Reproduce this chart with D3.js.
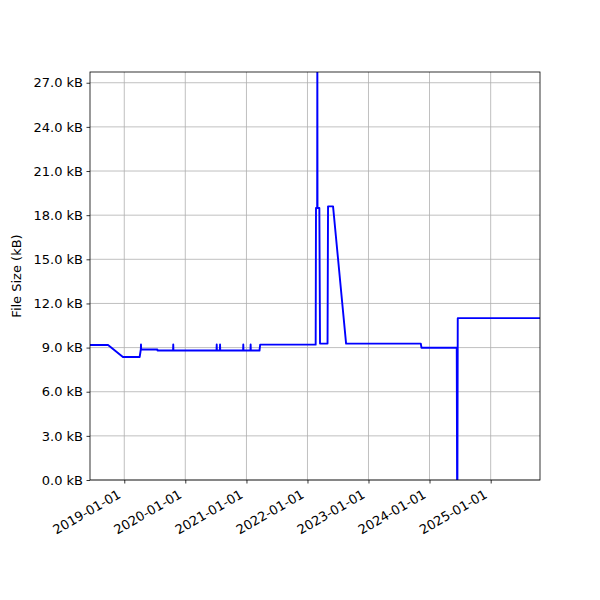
<!DOCTYPE html>
<html><head><meta charset="utf-8">
<script src="https://cdn.jsdelivr.net/npm/d3@7"></script>
<style>body{margin:0;background:#fff}svg{display:block}</style>
</head><body>
<svg id="chart" width="600" height="600"></svg>
<script>
const dates = ["2018-06-10","2018-09-26","2018-12-24","2019-04-03","2019-04-10","2019-04-11","2019-04-12","2019-07-18","2019-07-19","2019-10-20","2019-10-21","2019-10-22","2020-07-06","2020-07-07","2020-07-08","2020-07-26","2020-07-27","2020-07-28","2020-12-12","2020-12-13","2020-12-14","2021-01-25","2021-01-26","2021-01-27","2021-03-20","2021-03-24","2022-02-19","2022-02-21","2022-02-28","2022-03-01","2022-03-02","2022-03-13","2022-03-17","2022-05-01","2022-05-04","2022-06-03","2022-08-20","2023-11-10","2023-11-14","2024-06-12","2024-06-14","2024-06-16","2024-06-18","2025-10-23"];
const sizes = [9.18,9.18,8.36,8.36,8.87,9.21,8.87,8.87,8.8,8.8,9.21,8.8,8.8,9.21,8.8,8.8,9.21,8.8,8.8,9.21,8.8,8.8,9.21,8.8,8.8,9.2,9.2,18.49,18.49,30,18.49,18.49,9.27,9.27,18.6,18.6,9.27,9.27,8.99,8.99,0,0,11.0,11.0];
const yTicks = [0,3,6,9,12,15,18,21,24,27];
const xTickLabels = ["2019-01-01","2020-01-01","2021-01-01","2022-01-01","2023-01-01","2024-01-01","2025-01-01"];
const xDomain = ["2018-06-10","2025-10-23"];
const yDomain = [0, 27.73];

const parse = d3.utcParse("%Y-%m-%d");
const data = dates.map((d,i)=>({t:parse(d), v:sizes[i]}));
const m = {l:90, r:540, t:72, b:480};
const svg = d3.select("#chart");
const x = d3.scaleUtc().domain(xDomain.map(parse)).range([m.l, m.r]);
const y = d3.scaleLinear().domain(yDomain).range([m.b, m.t]);
const font = "DejaVu Sans, sans-serif";

// grid
svg.append("g").selectAll("line").data(xTickLabels).join("line")
  .attr("x1",d=>x(parse(d))).attr("x2",d=>x(parse(d)))
  .attr("y1",m.t).attr("y2",m.b).attr("stroke","#b0b0b0").attr("stroke-width",0.8);
svg.append("g").selectAll("line").data(yTicks).join("line")
  .attr("x1",m.l).attr("x2",m.r)
  .attr("y1",d=>y(d)).attr("y2",d=>y(d)).attr("stroke","#b0b0b0").attr("stroke-width",0.8);

svg.append("defs").append("clipPath").attr("id","clip").append("rect")
  .attr("x",m.l).attr("y",m.t).attr("width",m.r-m.l).attr("height",m.b-m.t);

svg.append("path").datum(data).attr("clip-path","url(#clip)")
  .attr("fill","none").attr("stroke","#0000ff").attr("stroke-width",1.9)
  .attr("stroke-linejoin","round")
  .attr("d", d3.line().x(d=>x(d.t)).y(d=>y(d.v)));

// axes
const yAxis = svg.append("g").attr("transform",`translate(${m.l},0)`)
  .call(d3.axisLeft(y).tickValues(yTicks).tickFormat(d=>d3.format(".1f")(d)+" kB").tickSizeOuter(0).tickSize(3.5).tickPadding(3.5));
const xAxis = svg.append("g").attr("transform",`translate(0,${m.b})`)
  .call(d3.axisBottom(x).tickValues(xTickLabels.map(parse)).tickFormat(d3.utcFormat("%Y-%m-%d")).tickSizeOuter(0).tickSize(3.5).tickPadding(3.5));
[xAxis,yAxis].forEach(a=>{
  a.select(".domain").remove();
  a.selectAll(".tick line").attr("stroke","#000").attr("stroke-width",0.8);
  a.selectAll("text").attr("font-family",font).attr("font-size",13).attr("fill","#000");
});
xAxis.selectAll("text")
  .attr("text-anchor","end").attr("dy",null).attr("y",0)
  .attr("transform","translate(-3,17) rotate(-30)");

// frame
svg.append("rect").attr("x",m.l).attr("y",m.t).attr("width",m.r-m.l).attr("height",m.b-m.t)
  .attr("fill","none").attr("stroke","#000").attr("stroke-width",0.8);

svg.append("text").attr("transform",`translate(21,${(m.t+m.b)/2}) rotate(-90)`)
  .attr("text-anchor","middle").attr("font-family",font).attr("font-size",13)
  .text("File Size (kB)");
</script>
</body></html>
